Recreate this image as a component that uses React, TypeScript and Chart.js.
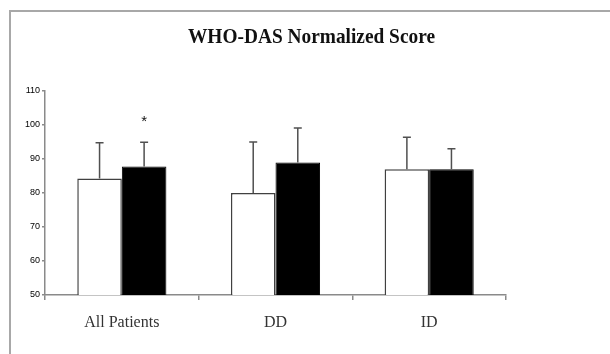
import React, { useEffect, useRef } from "react";
import { Chart, registerables } from "chart.js";

Chart.register(...registerables);

const categories = ["All Patients", "DD", "ID"];
const seriesA = [84.3, 80.0, 87.0];
const seriesB = [87.8, 89.0, 87.0];
const errorsA = [10.5, 15.0, 9.4];
const errorsB = [7.1, 10.1, 6.0];
const markersB = ["*", "", ""];
const yTicks = [50, 60, 70, 80, 90, 100, 110];
const titleText = "WHO-DAS Normalized Score";

const frame = {
  id: "frame",
  beforeDraw(chart: any) {
    const ctx = chart.ctx;
    ctx.save();
    ctx.fillStyle = "#ffffff";
    ctx.fillRect(0, 0, chart.width, chart.height);
    ctx.strokeStyle = "#a8a8a8";
    ctx.lineWidth = 2;
    ctx.beginPath();
    ctx.moveTo(9, 11);
    ctx.lineTo(chart.width, 11);
    ctx.moveTo(10, 10);
    ctx.lineTo(10, chart.height);
    ctx.stroke();
    ctx.restore();
  },
};

const titlePlugin = {
  id: "titleCond",
  afterDraw(chart: any) {
    const ctx = chart.ctx;
    ctx.save();
    ctx.font = "bold 22px 'Liberation Serif', 'Times New Roman', serif";
    ctx.fillStyle = "#111";
    ctx.textBaseline = "alphabetic";
    ctx.textAlign = "center";
    const w = ctx.measureText(titleText).width;
    const target = 247;
    const s = target / w;
    ctx.translate(311.5, 42.5);
    ctx.scale(s, 1);
    ctx.fillText(titleText, 0, 0);
    ctx.restore();
  },
};

const errorPlugin = {
  id: "errorBars",
  afterDatasetsDraw(chart: any) {
    const ctx = chart.ctx;
    const yScale = chart.scales.y;
    const errs = [errorsA, errorsB];
    ctx.save();
    ctx.strokeStyle = "#505050";
    ctx.lineWidth = 1.5;
    chart.data.datasets.forEach((ds: any, i: number) => {
      const meta = chart.getDatasetMeta(i);
      meta.data.forEach((bar: any, j: number) => {
        const v = ds.data[j];
        const top = yScale.getPixelForValue(v + errs[i][j]);
        ctx.beginPath();
        ctx.moveTo(bar.x, bar.y);
        ctx.lineTo(bar.x, top);
        ctx.moveTo(bar.x - 4, top);
        ctx.lineTo(bar.x + 4, top);
        ctx.stroke();
        if (i === 1 && markersB[j]) {
          ctx.fillStyle = "#111";
          ctx.font = "15px 'Liberation Sans', Arial, sans-serif";
          ctx.textAlign = "center";
          ctx.textBaseline = "middle";
          ctx.fillText(markersB[j], bar.x, yScale.getPixelForValue(101.6) + 2);
        }
      });
    });
    ctx.restore();
  },
};

export default function App() {
  const ref = useRef<HTMLCanvasElement | null>(null);
  useEffect(() => {
    if (!ref.current) return;
    const chart = new Chart(ref.current, {
      type: "bar",
      data: {
        labels: categories,
        datasets: [
          {
            label: "A",
            data: seriesA,
            backgroundColor: "#ffffff",
            borderColor: "#404040",
            borderWidth: 1.5,
            categoryPercentage: 0.58,
            barPercentage: 1.0,
          },
          {
            label: "B",
            data: seriesB,
            backgroundColor: "#000000",
            borderColor: "#000000",
            borderWidth: 1,
            categoryPercentage: 0.58,
            barPercentage: 1.0,
          },
        ],
      },
      options: {
        responsive: false,
        animation: false,
        layout: { padding: { top: 91, right: 104, left: 0, bottom: 0 } },
        plugins: {
          legend: { display: false },
          title: { display: false },
          tooltip: { enabled: false },
        },
        scales: {
          x: {
            grid: {
              display: true,
              drawOnChartArea: false,
              drawTicks: true,
              tickLength: 5,
              color: "#8a8a8a",
              lineWidth: 1.5,
              offset: true,
            },
            border: { color: "#8a8a8a", width: 1.5 },
            ticks: {
              color: "#333",
              padding: 13,
              font: { family: "'Liberation Serif', 'Times New Roman', serif", size: 16 },
              maxRotation: 0,
            },
            afterFit(scale: any) {
              scale.height = 59;
            },
          },
          y: {
            min: 50,
            max: 110,
            afterBuildTicks(scale: any) {
              scale.ticks = yTicks.map((v) => ({ value: v }));
            },
            grid: {
              display: true,
              drawOnChartArea: false,
              drawTicks: true,
              tickLength: 3,
              color: "#8a8a8a",
              lineWidth: 1.5,
            },
            border: { color: "#8a8a8a", width: 1.5 },
            ticks: {
              color: "#000",
              padding: 2,
              font: { family: "'Liberation Sans', Arial, sans-serif", size: 9 },
            },
            afterFit(scale: any) {
              scale.width = 45;
            },
          },
        },
      },
      plugins: [frame, titlePlugin, errorPlugin],
    } as any);
    return () => chart.destroy();
  }, []);
  return (
    <div style={{ position: "absolute", left: 0, top: 0, width: 610, height: 354, background: "#fff" }}>
      <canvas ref={ref} width={610} height={354} style={{ display: "block", width: 610, height: 354 }} />
    </div>
  );
}
